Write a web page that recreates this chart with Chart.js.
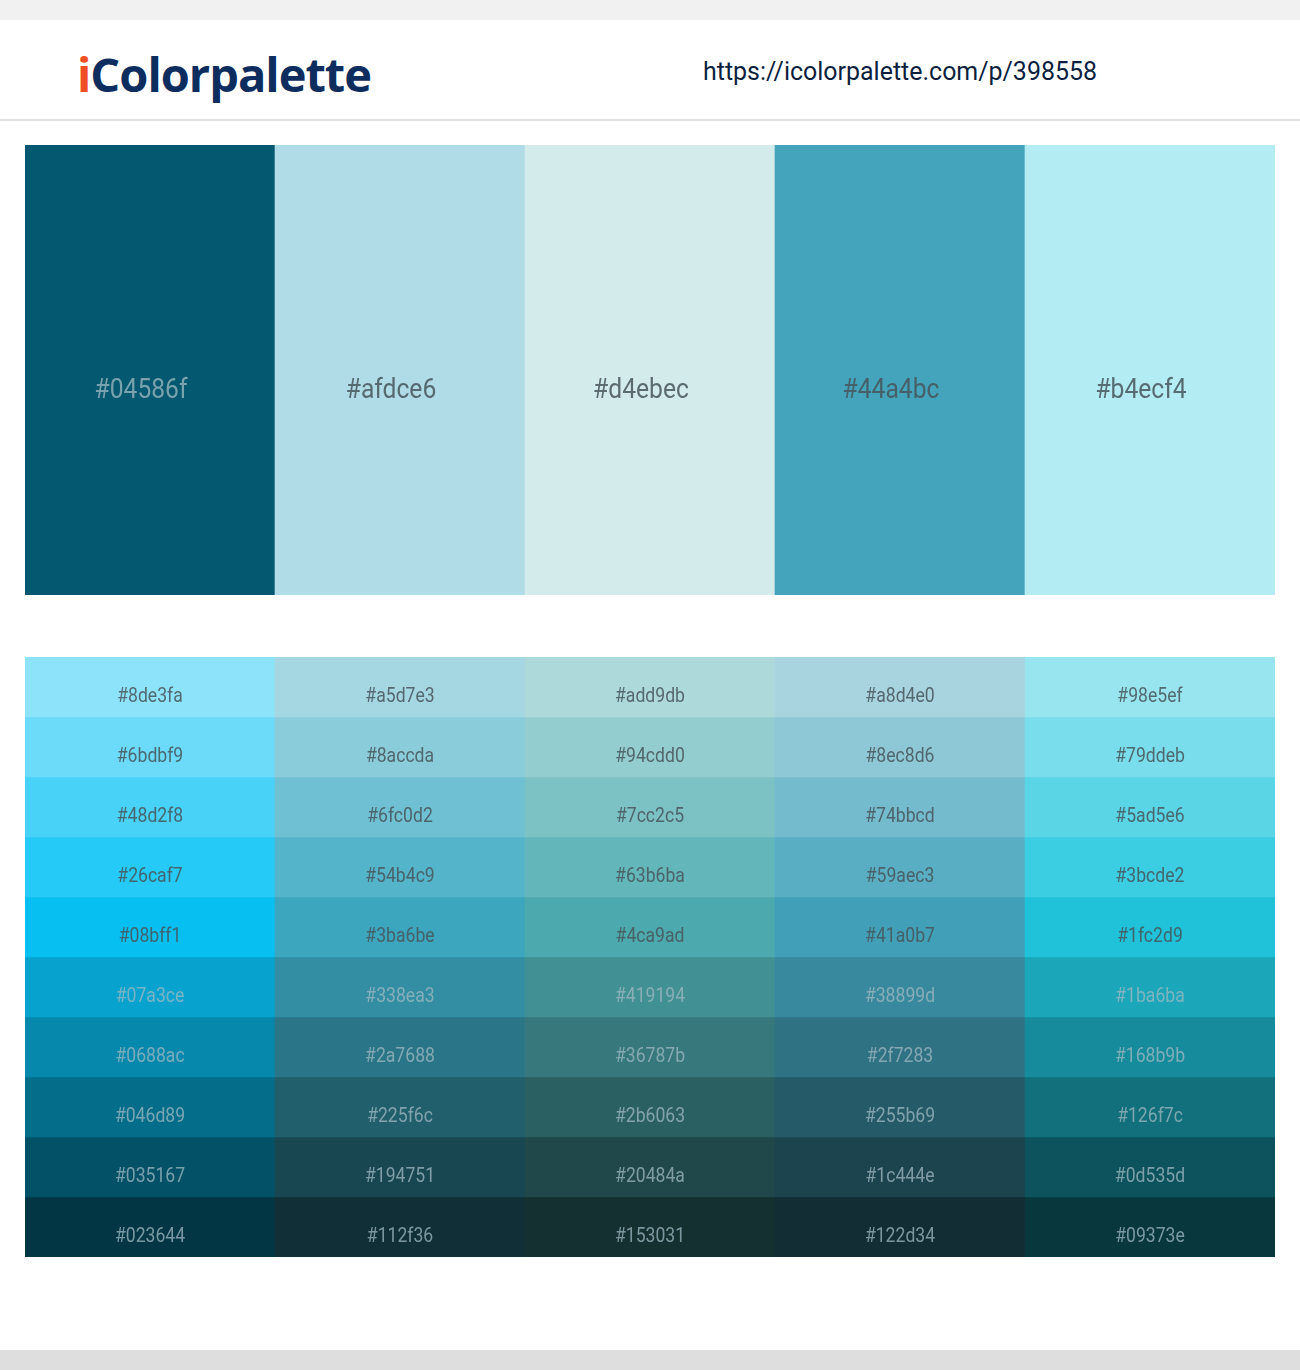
<!DOCTYPE html>
<html><head><meta charset="utf-8">
<script src="https://cdn.jsdelivr.net/npm/chart.js@4"></script>
<style>
body{margin:0;width:1300px;height:1370px;background:#fff;position:relative;overflow:hidden;font-family:Roboto,"Liberation Sans",sans-serif}
#topbar{position:absolute;left:0;top:0;width:1300px;height:20px;background:#f1f1f1}
#hdr{position:absolute;left:0;top:20px;width:1300px;height:99px;border-bottom:2px solid #e2e2e2;background:#fff}
#logo{position:absolute;left:77px;top:22px;font:bold 47px "Open Sans",sans-serif;color:#0d2d5e;letter-spacing:-1px}
#logo span{color:#f04e23}
#url{position:absolute;left:703px;top:36px;font:26px Roboto,sans-serif;color:#0c1f3f;transform:scaleX(0.96);transform-origin:left}
#botbar{position:absolute;left:0;top:1350px;width:1300px;height:20px;background:#dedede}
.c{position:absolute;left:25px;width:1250px}
</style></head><body>
<div id="topbar"></div>
<div id="hdr"><div id="logo"><span>i</span>Colorpalette</div><div id="url">https://icolorpalette.com/p/398558</div></div>
<div class="c" style="top:145px;height:450px"><canvas id="top"></canvas></div>
<div class="c" style="top:657px;height:600px"><canvas id="grid"></canvas></div>
<div id="botbar"></div>
<script>
const paletteColors = ["#04586f","#afdce6","#d4ebec","#44a4bc","#b4ecf4"];
const shadeCol1 = ["#8de3fa","#6bdbf9","#48d2f8","#26caf7","#08bff1","#07a3ce","#0688ac","#046d89","#035167","#023644"];
const shadeCol2 = ["#a5d7e3","#8accda","#6fc0d2","#54b4c9","#3ba6be","#338ea3","#2a7688","#225f6c","#194751","#112f36"];
const shadeCol3 = ["#add9db","#94cdd0","#7cc2c5","#63b6ba","#4ca9ad","#419194","#36787b","#2b6063","#20484a","#153031"];
const shadeCol4 = ["#a8d4e0","#8ec8d6","#74bbcd","#59aec3","#41a0b7","#38899d","#2f7283","#255b69","#1c444e","#122d34"];
const shadeCol5 = ["#98e5ef","#79ddeb","#5ad5e6","#3bcde2","#1fc2d9","#1ba6ba","#168b9b","#126f7c","#0d535d","#09373e"];
const shadeCols = [shadeCol1,shadeCol2,shadeCol3,shadeCol4,shadeCol5];

function lum(h){const r=parseInt(h.slice(1,3),16),g=parseInt(h.slice(3,5),16),b=parseInt(h.slice(5,7),16);return (0.299*r+0.587*g+0.114*b)/255;}
function txtCol(h){return lum(h)>0.5?"rgba(70,85,90,0.85)":"rgba(160,185,195,0.75)";}

const labelPlugin = (size,dx,dy)=>({id:'lbl',afterDatasetsDraw(chart){
  const ctx=chart.ctx;ctx.save();
  ctx.font=size+'px Roboto, sans-serif';ctx.textAlign='center';ctx.textBaseline='middle';
  chart.data.datasets.forEach((ds,di)=>{
    chart.getDatasetMeta(di).data.forEach((el,i)=>{
      const hex=ds.backgroundColor[i];
      ctx.fillStyle=txtCol(hex);
      ctx.save();ctx.translate(el.x+dx,(el.y+el.base)/2+dy);ctx.scale(0.88,1);
      ctx.fillText(hex,0,0);ctx.restore();
    });
  });ctx.restore();}});

const baseOpts = (max)=>({responsive:true,maintainAspectRatio:false,animation:false,
  plugins:{legend:{display:false},tooltip:{enabled:false}},layout:{padding:0},
  scales:{x:{display:false,stacked:true,grid:{display:false}},
          y:{display:false,stacked:true,min:0,max:max,reverse:true,grid:{display:false}}}});

new Chart(document.getElementById('top'),{type:'bar',
  data:{labels:paletteColors,datasets:[{data:paletteColors.map(()=>1),backgroundColor:paletteColors,
    barPercentage:1,categoryPercentage:1,borderWidth:0}]},
  options:baseOpts(1),plugins:[labelPlugin(28,-9,21)]});

const rows = shadeCol1.length;
const gridSets=[];
for(let r=0;r<rows;r++){
  gridSets.push({data:shadeCols.map(()=>1),backgroundColor:shadeCols.map(c=>c[r]),
    barPercentage:1,categoryPercentage:1,borderWidth:0});
}
new Chart(document.getElementById('grid'),{type:'bar',
  data:{labels:paletteColors,datasets:gridSets},
  options:baseOpts(rows),plugins:[labelPlugin(20,0,10)]});
</script>
</body></html>
